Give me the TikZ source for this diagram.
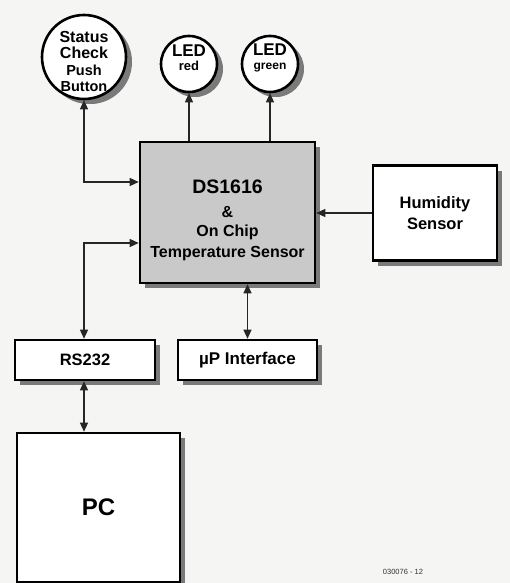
\documentclass[tikz,border=0pt]{standalone}
\usepackage{fontspec}
\setmainfont{Liberation Sans}
\usetikzlibrary{arrows.meta,shadows}
\definecolor{paper}{HTML}{F5F5F3}
\definecolor{chipgray}{HTML}{C9C9C9}
\definecolor{shade}{HTML}{7A7A7A}
\tikzset{
  sh/.style={drop shadow={shadow xshift=5pt,shadow yshift=-5pt,fill=shade,opacity=1}},
  blk/.style={draw=black,line width=2.6pt,fill=white,sh,align=center,inner sep=0pt},
  rnd/.style={blk,circle,drop shadow={shadow xshift=6pt,shadow yshift=-5pt,fill=shade,opacity=1}},
  txt/.style={align=center,inner sep=0pt},
  fz/.style 2 args={font=\bfseries\fontsize{#1}{#2}\selectfont},
  arr/.style={line width=1.3pt,draw=black!85,arrows={-Triangle[length=9pt,width=8pt]}},
  darr/.style={line width=1.3pt,draw=black!85,arrows={Triangle[length=9pt,width=8pt]-Triangle[length=9pt,width=8pt]}}
}
\begin{document}
\begin{tikzpicture}[x=1pt,y=-1pt]
\useasboundingbox[fill=paper] (0,0) rectangle (510,583);
% shapes
\node[rnd,minimum size=84pt] (status) at (84,57) {};
\node[rnd,minimum size=56pt] (ledr) at (189,64) {};
\node[rnd,minimum size=56pt] (ledg) at (270,64) {};
\node[blk,fill=chipgray,minimum width=175pt,minimum height=141pt] (chip) at (227.5,212.5) {};
\node[blk,fz={16.5}{21},minimum width=124pt,minimum height=95pt] (hum) at (435,213)
  {Humidity\\Sensor};
\node[blk,fz={16.5}{18},minimum width=140pt,minimum height=40pt] (rs) at (85,360) {RS232};
\node[blk,fz={17}{18},minimum width=139pt,minimum height=40pt] (mup) at (247.5,360) {\textmu P Interface};
\node[blk,fz={24}{26},minimum width=163pt,minimum height=149pt] (pc) at (98.5,507.5) {PC};
% texts inside the round and grey shapes
\node[txt,fz={16}{16}] (statust) at (84,61)
  {Status\\Check\\[1pt]\fontsize{14.5}{16}\selectfont Push\\\fontsize{14.5}{16}\selectfont Button};
\node[txt,fz={17}{14}] (ledrt) at (189,58) {LED\\\fontsize{13}{14}\selectfont red};
\node[txt,fz={17}{14}] (ledgt) at (270,58) {LED\\\fontsize{12}{14}\selectfont green};
\node[txt,fz={16}{20}] (chipt) at (227.5,220)
  {\fontsize{19.5}{20}\selectfont DS1616\\[4pt]\&\\[-1pt]On Chip\\[1pt]Temperature Sensor};
\node[font=\fontsize{7.5}{8}\selectfont,text=black!80] (fig) at (403,572) {030076 - 12};
% helper corners
\coordinate (k1) at (84,182);
\coordinate (k2) at (84,243);
% connectors
\draw[darr] (status.south) -- (k1) -- (chip.west |- k1);
\draw[darr] (rs.north -| k2) -- (k2) -- (chip.west |- k2);
\draw[arr] (ledr |- chip.north) -- (ledr.south);
\draw[arr] (ledg |- chip.north) -- (ledg.south);
\draw[arr] (hum.west) -- (chip.east |- hum.west);
\draw[darr] (chip.south -| mup.north) -- (mup.north);
\draw[darr] (rs.south -| k2) -- (k2 |- pc.north);
\end{tikzpicture}
\end{document}
